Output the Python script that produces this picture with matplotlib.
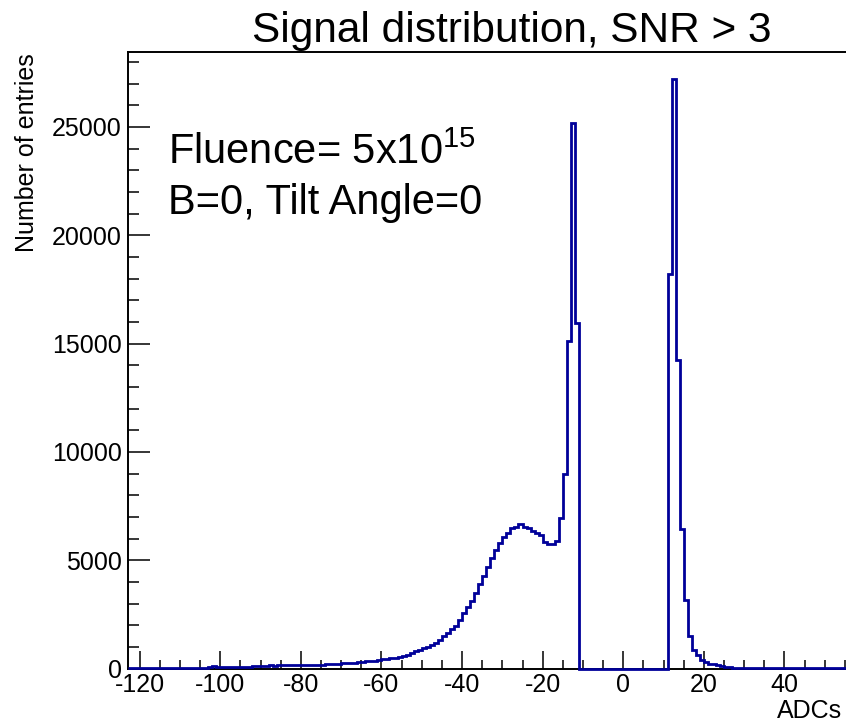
import numpy as np
import matplotlib
matplotlib.use('Agg')
import matplotlib.pyplot as plt
from matplotlib.ticker import MultipleLocator

plt.rcParams['font.family'] = ['Liberation Sans', 'DejaVu Sans']
plt.rcParams['axes.unicode_minus'] = False
plt.rcParams['mathtext.default'] = 'regular'

# histogram: 1 ADC wide bins from -123 to 56
x_lo = -123
x_hi = 56

# bins -123 .. -56
left_tail = [15, 15, 20, 20, 20, 25, 25, 25, 30, 30, 30, 30, 35, 35, 35, 40, 40, 40, 45, 45, 50,
             110, 55,
             75, 75, 80, 80, 85, 85, 90, 90, 95, 95, 100, 100,
             170, 120,
             140, 140, 145, 150, 150, 155, 160, 160, 165, 170, 175, 180, 185,
             210, 220, 225,
             245, 255, 265, 270, 280,
             320, 335, 350, 365,
             400, 420, 440,
             480, 500, 530]
# bins -55 .. -15
hump = [570, 640, 700, 800, 860, 930, 1000, 1100, 1180, 1330,
        1500, 1660, 1810, 1980, 2230, 2570, 2820, 3120, 3500, 3890,
        4270, 4670, 5090, 5460, 5790, 6050, 6250, 6470, 6540, 6690,
        6540, 6490, 6350, 6240, 6150, 5820, 5770, 5760, 5880, 6950,
        9000]
# bins -14 .. -12
left_spike = [15100, 25200, 15950]
# bins -11 .. 10
gap = [0] * 22
# bins 11 .. 15
right_spike = [18200, 27200, 14250, 6440, 3160]
# bins 16 .. 55
right_tail = [1520, 850, 620, 370, 280, 220, 190, 140, 100, 70, 55, 45,
              40, 35, 30, 30, 25, 25, 20, 20, 20, 15, 15, 15, 15, 10, 10, 10,
              10, 10, 10, 10, 8, 8, 8, 8, 5, 5, 5, 5]

counts = np.array(left_tail + hump + left_spike + gap + right_spike + right_tail)
edges = np.arange(x_lo, x_hi + 1)

W, H = 846, 724
fig = plt.figure(figsize=(W / 100, H / 100), dpi=100)
left, right, top, bottom = 127.5, 846, 52, 668.5
ax = fig.add_axes([left / W, 1 - bottom / H, (right - left) / W, (bottom - top) / H])

ax.stairs(counts, edges, color='#000099', lw=2.0, baseline=None, clip_on=False, zorder=5)

ax.set_xlim(-123, 55.26)
ax.set_ylim(0, 28460)

ax.set_xticks(range(-120, 41, 20))
ax.xaxis.set_minor_locator(MultipleLocator(5))
ax.set_yticks(range(0, 25001, 5000))
ax.yaxis.set_minor_locator(MultipleLocator(1000))

ax.tick_params(which='both', direction='in', top=False, right=False, width=1.1, labelsize=18)
ax.tick_params(axis='x', which='major', length=12.7, pad=3)
ax.tick_params(axis='x', which='minor', length=6.5)
ax.tick_params(axis='y', which='major', length=15.6, pad=4)
ax.tick_params(axis='y', which='minor', length=7.9)

for s in ['left', 'bottom', 'top']:
    ax.spines[s].set_linewidth(1.4)
ax.spines['right'].set_visible(False)

fig.text(512 / W, 1 - 42 / H, 'Signal distribution, SNR > 3', fontsize=30.5,
         ha='center', va='baseline')
fig.text(27 / W, 1 - 53 / H, 'Number of entries', fontsize=18, rotation=90,
         ha='center', va='top')
fig.text(842 / W, 1 - 718 / H, 'ADCs', fontsize=18, ha='right', va='baseline')

ax.text(168 / W, 1 - 164 / H, 'Fluence= 5x10$^{15}$', fontsize=30,
        transform=fig.transFigure, ha='left', va='baseline')
ax.text(168 / W, 1 - 214 / H, 'B=0, Tilt Angle=0', fontsize=30,
        transform=fig.transFigure, ha='left', va='baseline')

plt.savefig('out.png', dpi=100)
